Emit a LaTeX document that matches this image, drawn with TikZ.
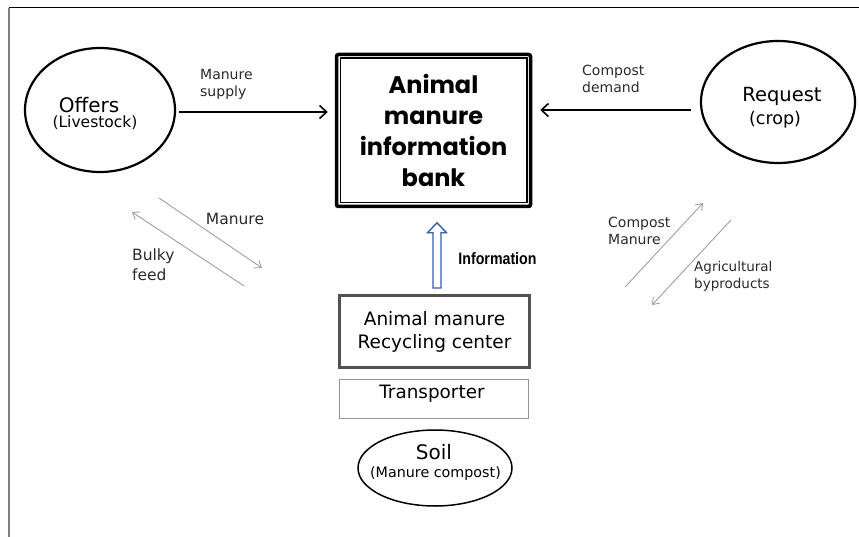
\documentclass[tikz,border=0pt]{standalone}
\usepackage{fontspec}
\usetikzlibrary{arrows.meta,shapes.geometric,calc,shadows}
\newfontfamily\dvfont{DejaVu Sans}
\newfontfamily\popfont{Poppins}
\newfontfamily\narrowfont{Liberation Sans}[FakeStretch=0.86]
\definecolor{infoblue}{HTML}{3A5BA8}
\definecolor{lblgray}{HTML}{2A2A2A}
\begin{document}
\begin{tikzpicture}[x=1pt,y=-1pt,
  oval/.style={ellipse,draw=black,inner sep=0pt},
  mainarrow/.style={draw=black,line width=1.6pt,-{Straight Barb[length=7pt,width=13pt]}},
  grayarrow/.style={draw=gray!75,line width=0.9pt,-{Straight Barb[length=6pt,width=9pt]}},
  lbl/.style={font=\dvfont\fontsize{14}{17}\selectfont,text=lblgray,inner sep=0pt,align=left},
  midlbl/.style={font=\dvfont\fontsize{15.5}{20}\selectfont,text=lblgray,inner sep=0pt,align=left},
  smlbl/.style={font=\dvfont\fontsize{13.5}{17}\selectfont,text=lblgray,inner sep=0pt,align=left}
]
\useasboundingbox (0,0) rectangle (859,537);
% frame
\draw[gray,line width=1.5pt] (9,537) -- (9,8);
\draw[black,line width=1pt] (9,8) -- (859,8);

% Offers
\node[oval,line width=2.2pt,minimum width=150pt,minimum height=124pt] (offers) at (100,110) {};
\node[font=\dvfont\fontsize{20}{24}\selectfont,inner sep=0pt] (offerst) at (89,105) {Offers};
\node[font=\dvfont\fontsize{15.5}{18}\selectfont,inner sep=0pt] (livest) at (95,123) {(Livestock)};

% Request
\node[oval,line width=2.2pt,minimum width=154pt,minimum height=122pt] (request) at (778,102) {};
\node[font=\dvfont\fontsize{19.5}{24}\selectfont,inner sep=0pt] (requestt) at (782,96) {Request};
\node[font=\dvfont\fontsize{17.5}{20}\selectfont,inner sep=0pt] (cropt) at (775,120) {(crop)};

% Bank
\node[draw=black,line width=3.5pt,rounded corners=2pt,minimum width=194pt,minimum height=152pt,
  drop shadow={shadow xshift=1.5pt,shadow yshift=-1.5pt,opacity=0.35},fill=white,
  font=\popfont\bfseries\fontsize{24}{31}\selectfont,align=center] (bank) at (433.5,130.5)
  {Animal\\manure\\information\\bank};
\draw[black,line width=1.5pt] ($(bank.north west)+(5.5,5.5)$) rectangle ($(bank.south east)+(-5.5,-5.5)$);

% Recycling center
\node[draw=black!68,line width=3pt,minimum width=190pt,minimum height=72pt,
  font=\dvfont\fontsize{18.5}{23}\selectfont,align=center,inner sep=0pt] (rec) at (434.5,331.5)
  {Animal manure\\Recycling center};

% Transporter
\node[draw=gray!85,line width=1.2pt,minimum width=189pt,minimum height=39pt,inner sep=0pt] (trans) at (434,399) {};
\node[font=\dvfont\fontsize{18.4}{22}\selectfont,inner sep=0pt] (transt) at (432,394) {Transporter};

% Soil
\node[oval,line width=1.5pt,minimum width=154pt,minimum height=76pt] (soil) at (435,468) {};
\node[font=\dvfont\fontsize{20}{24}\selectfont,inner sep=0pt] (soilt) at (434,452) {Soil};
\node[font=\dvfont\fontsize{14.3}{17}\selectfont,inner sep=0pt] (soilc) at (435.5,474) {(Manure compost)};

% main arrows
\draw[mainarrow,shorten <=3pt,shorten >=7pt] ([yshift=-2pt]offers.east) -- ([yshift=-2pt]offers.east -| bank.west);
\node[lbl,anchor=west] (supply) at (200,84) {Manure\\supply};
\draw[mainarrow,shorten <=9pt,shorten >=8pt] ([yshift=-8pt]request.west) -- ([yshift=-8pt]request.west -| bank.east);
\node[lbl,anchor=west] (demand) at (582,79) {Compost\\demand};

% information arrow
\coordinate (infob) at ($(rec.north)+(2.5,-6)$);
\coordinate (infot) at ($(bank.south)+(3.5,14.5)$);
\draw[infoblue,line width=1.4pt,line join=miter,fill=white]
  ($(infob)+(-4,0)$) -- ($(infot)+(-4,10)$) -- ($(infot)+(-9.5,10)$) -- (infot)
  -- ($(infot)+(9.5,10)$) -- ($(infot)+(4,10)$) -- ($(infob)+(4,0)$) -- cycle;
\node[font=\narrowfont\bfseries\fontsize{16.5}{18}\selectfont,inner sep=0pt] (infot2) at (497.5,259) {Information};

% left exchange arrows
\coordinate (la1) at (159,198);
\coordinate (la2) at (262,268);
\coordinate (lb1) at (244,286);
\coordinate (lb2) at (132,212);
\draw[grayarrow] (la1) -- (la2);
\draw[grayarrow] (lb1) -- (lb2);
\node[midlbl] (manurel) at (235,219) {Manure};
\node[midlbl,anchor=west] (bulky) at (132,265) {Bulky\\feed};

% right exchange arrows
\coordinate (rc1) at (625,287);
\coordinate (rc2) at (703,203);
\coordinate (rd1) at (731,220);
\coordinate (rd2) at (652,305);
\draw[grayarrow] (rc1) -- (rc2);
\draw[grayarrow] (rd1) -- (rd2);
\node[lbl,anchor=west] (compm) at (608,231) {Compost\\Manure};
\node[smlbl,anchor=west] (agri) at (694,276) {Agricultural\\byproducts};
\end{tikzpicture}
\end{document}
